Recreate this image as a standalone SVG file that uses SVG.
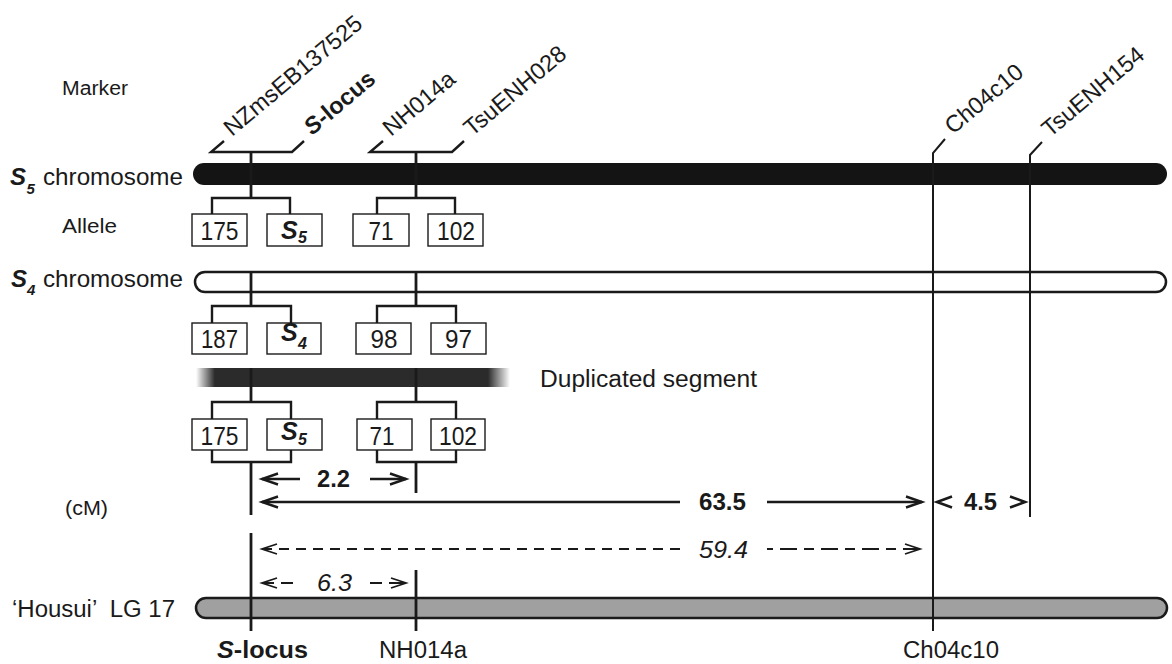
<svg xmlns="http://www.w3.org/2000/svg" width="1172" height="664" viewBox="0 0 1172 664">
<style>
text{font-family:"Liberation Sans",Arial,Helvetica,sans-serif;fill:#1a1a1a}
.ln{stroke:#1a1a1a;stroke-width:2.8;fill:none}
.br{stroke:#1a1a1a;stroke-width:2.4;fill:none}
.ld{stroke:#1a1a1a;stroke-width:2;fill:none}
.bx{fill:#fff;stroke:#1a1a1a;stroke-width:1.4}
.ar{stroke:#1a1a1a;stroke-width:2.6;fill:none}
.da{stroke:#1a1a1a;stroke-width:1.8;fill:none;stroke-dasharray:10 7}
.rot{font-size:23.5px}
.num{font-size:25px;text-anchor:middle}
.bi{font-weight:bold;font-style:italic}
.b{font-weight:bold}
.it{font-style:italic}
</style>
<defs>
<marker id="chev" markerUnits="userSpaceOnUse" markerWidth="24" markerHeight="16" viewBox="-20 -8 24 16" refX="0" refY="0" orient="auto-start-reverse" overflow="visible">
<path d="M-16,-5.5 L0,0 L-16,5.5" fill="none" stroke="#1a1a1a" stroke-width="2.4" stroke-dasharray="none"/>
</marker>
<marker id="chevd" markerUnits="userSpaceOnUse" markerWidth="24" markerHeight="16" viewBox="-20 -8 24 16" refX="0" refY="0" orient="auto-start-reverse" overflow="visible">
<path d="M-15,-5 L0,0 L-15,5" fill="none" stroke="#1a1a1a" stroke-width="1.8" stroke-dasharray="none"/>
</marker>
<linearGradient id="dup" gradientUnits="userSpaceOnUse" x1="196" y1="0" x2="510" y2="0">
<stop offset="0" stop-color="#2b2b2b" stop-opacity="0"/>
<stop offset="0.06" stop-color="#2b2b2b" stop-opacity="1"/>
<stop offset="0.93" stop-color="#2b2b2b" stop-opacity="1"/>
<stop offset="1" stop-color="#2b2b2b" stop-opacity="0"/>
</linearGradient>
</defs>

<g id="row-labels">
<text x="62" y="95" font-size="20" textLength="66" lengthAdjust="spacingAndGlyphs">Marker</text>
<text x="62" y="233" font-size="21" textLength="55" lengthAdjust="spacingAndGlyphs">Allele</text>
<text x="65" y="515" font-size="21" textLength="43" lengthAdjust="spacingAndGlyphs">(cM)</text>
</g>

<g id="s5-chromosome">
<rect x="193" y="163" width="974" height="22" rx="11" fill="#141414"/>
<text x="10" y="185" font-size="24" class="bi">S</text>
<text x="26.5" y="194" font-size="15" class="bi">5</text>
<text x="43" y="185" font-size="24" textLength="140" lengthAdjust="spacingAndGlyphs">chromosome</text>
</g>

<g id="s4-chromosome">
<rect x="195" y="272" width="971" height="20" rx="10" fill="#fff" stroke="#1a1a1a" stroke-width="2.5"/>
<text x="11" y="287" font-size="24" class="bi">S</text>
<text x="27" y="295" font-size="15" class="bi">4</text>
<text x="43" y="287" font-size="24" textLength="140" lengthAdjust="spacingAndGlyphs">chromosome</text>
</g>

<g id="duplicated-segment">
<rect x="196" y="368" width="314" height="19" fill="url(#dup)"/>
<text x="540" y="387" font-size="23.5" textLength="217" lengthAdjust="spacingAndGlyphs">Duplicated segment</text>
</g>

<g id="lg17">
<rect x="196" y="598" width="971" height="20" rx="10" fill="#a0a0a0" stroke="#1a1a1a" stroke-width="2.5"/>
<text x="12" y="617" font-size="23.5" textLength="163" lengthAdjust="spacingAndGlyphs" xml:space="preserve">‘Housui’  LG 17</text>
</g>

<g id="marker-labels">
<text class="rot" transform="translate(232,137) rotate(-40)">NZmsEB137525</text>
<text class="rot b" transform="translate(312,136) rotate(-40)"><tspan class="it">S</tspan>-locus</text>
<text class="rot" transform="translate(391,137) rotate(-40)">NH014a</text>
<text class="rot" transform="translate(472,137) rotate(-40)">TsuENH028</text>
<text class="rot" transform="translate(953,135) rotate(-40)">Ch04c10</text>
<text class="rot" transform="translate(1050,138) rotate(-40)">TsuENH154</text>
</g>

<g id="connectors">
<polyline class="br" points="224,141 211,152 292,152 304,141"/>
<polyline class="br" points="383,141 370,152 452,152 464,141"/>
<polyline class="ld" points="945,139 933,153 933,631"/>
<polyline class="ld" points="1042,142 1030,155 1030,517"/>
<line class="ln" x1="251" y1="152" x2="251" y2="198"/>
<polyline class="br" points="212,214 212,198 290,198 290,214"/>
<line class="ln" x1="416" y1="152" x2="416" y2="198"/>
<polyline class="br" points="377,214 377,198 455,198 455,214"/>
<line class="ln" x1="251" y1="272" x2="251" y2="306"/>
<polyline class="br" points="212,323 212,306 291,306 291,323"/>
<line class="ln" x1="416" y1="272" x2="416" y2="306"/>
<polyline class="br" points="377,323 377,306 456,306 456,323"/>
<line class="ln" x1="251" y1="368" x2="251" y2="402"/>
<polyline class="br" points="212,419 212,402 291,402 291,419"/>
<line class="ln" x1="416" y1="368" x2="416" y2="402"/>
<polyline class="br" points="377,419 377,402 456,402 456,419"/>
<polyline class="br" points="212,450 212,462 291,462 291,450"/>
<polyline class="br" points="377,450 377,462 456,462 456,450"/>
<line class="ln" x1="251" y1="462" x2="251" y2="515"/>
<line class="ln" x1="416" y1="462" x2="416" y2="493"/>
<line class="ln" x1="251" y1="533" x2="251" y2="631"/>
<line class="ln" x1="416" y1="570" x2="416" y2="631"/>
<line class="ar" x1="300" y1="479" x2="262" y2="479" marker-end="url(#chev)"/>
<line class="ar" x1="370" y1="479" x2="406" y2="479" marker-end="url(#chev)"/>
<line class="ar" x1="680" y1="502" x2="262" y2="502" marker-end="url(#chev)"/>
<line class="ar" x1="767" y1="502" x2="922" y2="502" marker-end="url(#chev)"/>
<polyline class="ar" points="952,496.5 937,502 952,507.5"/>
<polyline class="ar" points="1010,496.5 1025,502 1010,507.5"/>
<line class="da" x1="262" y1="549" x2="680" y2="549" marker-start="url(#chevd)"/>
<line class="da" x1="920" y1="549" x2="767" y2="549" marker-start="url(#chevd)" style="stroke-dasharray:17 7 10 7"/>
<line class="da" x1="262" y1="583" x2="293" y2="583" marker-start="url(#chevd)" style="stroke-dasharray:12 7"/>
<line class="da" x1="406" y1="583" x2="370" y2="583" marker-start="url(#chevd)" style="stroke-dasharray:17 7 12 7"/>
</g>

<g id="distances">
<text x="333.5" y="487" font-size="23" class="b" text-anchor="middle" textLength="33" lengthAdjust="spacingAndGlyphs">2.2</text>
<text x="722.5" y="510" font-size="24" class="b" text-anchor="middle" textLength="47" lengthAdjust="spacingAndGlyphs">63.5</text>
<text x="980.5" y="510" font-size="23" class="b" text-anchor="middle" textLength="33" lengthAdjust="spacingAndGlyphs">4.5</text>
<text x="723.5" y="558" font-size="24" class="it" text-anchor="middle" textLength="49" lengthAdjust="spacingAndGlyphs">59.4</text>
<text x="334.5" y="591" font-size="24" class="it" text-anchor="middle" textLength="35" lengthAdjust="spacingAndGlyphs">6.3</text>
</g>

<g id="alleles-s5">
<rect class="bx" x="192" y="214" width="55" height="32"/>
<text class="num" x="219.5" y="240" textLength="38" lengthAdjust="spacingAndGlyphs">175</text>
<rect class="bx" x="267" y="214" width="55" height="32"/>
<text x="281" y="239" font-size="25" class="bi">S</text>
<text x="298" y="243" font-size="16" class="bi">5</text>
<rect class="bx" x="353" y="214" width="56" height="32"/>
<text class="num" x="381" y="240" textLength="25" lengthAdjust="spacingAndGlyphs">71</text>
<rect class="bx" x="428" y="214" width="55" height="32"/>
<text class="num" x="456" y="240" textLength="38" lengthAdjust="spacingAndGlyphs">102</text>
</g>

<g id="alleles-s4">
<rect class="bx" x="192" y="323" width="55" height="31"/>
<text class="num" x="219.5" y="348" textLength="37" lengthAdjust="spacingAndGlyphs">187</text>
<rect class="bx" x="267" y="323" width="54" height="31"/>
<text x="281" y="341" font-size="25" class="bi">S</text>
<text x="298" y="349" font-size="16" class="bi">4</text>
<rect class="bx" x="356" y="323" width="55" height="31"/>
<text class="num" x="384" y="348" textLength="27" lengthAdjust="spacingAndGlyphs">98</text>
<rect class="bx" x="431" y="323" width="55" height="31"/>
<text class="num" x="458.5" y="348" textLength="27" lengthAdjust="spacingAndGlyphs">97</text>
</g>

<g id="alleles-dup">
<rect class="bx" x="192" y="419" width="55" height="31"/>
<text class="num" x="219.5" y="445" textLength="38" lengthAdjust="spacingAndGlyphs">175</text>
<rect class="bx" x="267" y="419" width="55" height="31"/>
<text x="281" y="440" font-size="25" class="bi">S</text>
<text x="298" y="445" font-size="16" class="bi">5</text>
<rect class="bx" x="357" y="419" width="55" height="31"/>
<text class="num" x="382" y="445" textLength="25" lengthAdjust="spacingAndGlyphs">71</text>
<rect class="bx" x="431" y="419" width="54" height="31"/>
<text class="num" x="458" y="445" textLength="38" lengthAdjust="spacingAndGlyphs">102</text>
</g>

<g id="bottom-labels">
<text x="217" y="658" font-size="23.5" class="b" textLength="91" lengthAdjust="spacingAndGlyphs"><tspan class="it">S</tspan>-locus</text>
<text x="379" y="658" font-size="23.5" textLength="88" lengthAdjust="spacingAndGlyphs">NH014a</text>
<text x="903" y="658" font-size="23.5" textLength="96" lengthAdjust="spacingAndGlyphs">Ch04c10</text>
</g>
</svg>
